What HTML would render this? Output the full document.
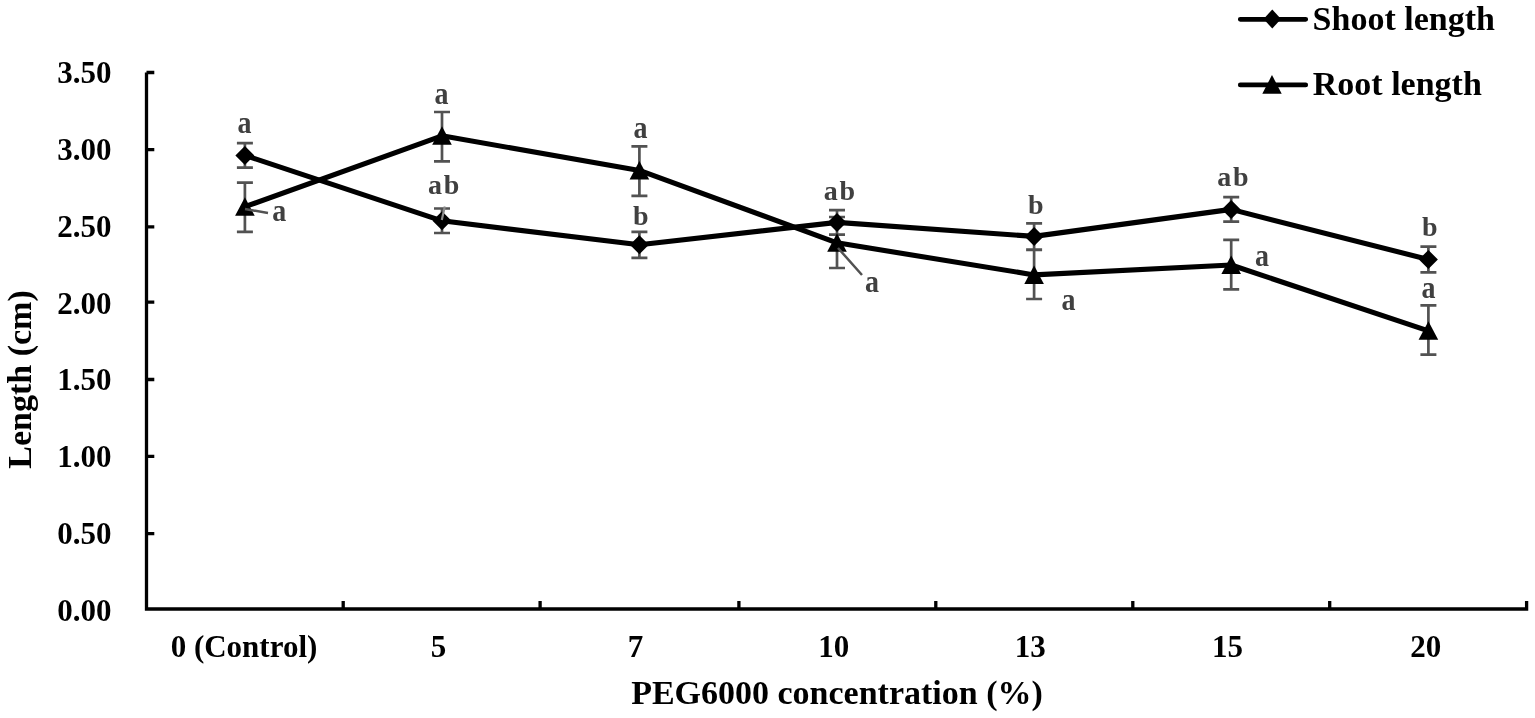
<!DOCTYPE html><html><head><meta charset="utf-8"><title>Shoot and root length vs PEG6000 concentration</title><style>html,body{margin:0;padding:0;background:#fff;}svg{display:block;}text{font-family:"Liberation Serif", "Times New Roman", serif;font-weight:bold;}</style></head><body>
<svg width="1535" height="718" viewBox="0 0 1535 718">
<rect width="1535" height="718" fill="#fff"/>
<path d="M146.5 72.5H154.3 M146.5 72.5V609.0H1526.6V601.0 M146.5 149.7h7.8 M146.5 226.9h7.8 M146.5 302.2h7.8 M146.5 379.5h7.8 M146.5 456.4h7.8 M146.5 533.6h7.8 M343.2 609.0v-8 M540.1 609.0v-8 M738.9 609.0v-8 M935.8 609.0v-8 M1132.8 609.0v-8 M1329.7 609.0v-8" fill="none" stroke="#000" stroke-width="3.3" stroke-linejoin="miter" stroke-linecap="butt"/>
<text x="111.5" y="82.6" font-size="31" text-anchor="end">3.50</text>
<text x="111.5" y="159.7" font-size="31" text-anchor="end">3.00</text>
<text x="111.5" y="237.0" font-size="31" text-anchor="end">2.50</text>
<text x="111.5" y="314.1" font-size="31" text-anchor="end">2.00</text>
<text x="111.5" y="389.5" font-size="31" text-anchor="end">1.50</text>
<text x="111.5" y="466.9" font-size="31" text-anchor="end">1.00</text>
<text x="111.5" y="543.9" font-size="31" text-anchor="end">0.50</text>
<text x="111.5" y="621.0" font-size="31" text-anchor="end">0.00</text>
<text x="244.0" y="656.8" font-size="31" text-anchor="middle">0 (Control)</text>
<text x="438.6" y="656.8" font-size="31" text-anchor="middle">5</text>
<text x="635.6" y="656.8" font-size="31" text-anchor="middle">7</text>
<text x="833.8" y="656.8" font-size="31" text-anchor="middle">10</text>
<text x="1030.3" y="656.8" font-size="31" text-anchor="middle">13</text>
<text x="1227.5" y="656.8" font-size="31" text-anchor="middle">15</text>
<text x="1425.7" y="656.8" font-size="31" text-anchor="middle">20</text>
<text x="837" y="704.3" font-size="34" text-anchor="middle">PEG6000 concentration (%)</text>
<text transform="translate(31.3 379.5) rotate(-90)" x="0" y="0" font-size="34" text-anchor="middle">Length (cm)</text>
<path d="M244.9 143.2V167.6 M236.9 143.2h16 M236.9 167.6h16 M442.0 208.5V233 M434.0 208.5h16 M434.0 233h16 M639.4 231.8V257.9 M631.4 231.8h16 M631.4 257.9h16 M837.0 210.1V234.7 M829.0 210.1h16 M829.0 234.7h16 M1034.1 223.3V249.6 M1026.1 223.3h16 M1026.1 249.6h16 M1231.2 197.1V221.7 M1223.2 197.1h16 M1223.2 221.7h16 M1428.4 246.6V272.4 M1420.4 246.6h16 M1420.4 272.4h16 M244.9 182.6V231.9 M236.9 182.6h16 M236.9 231.9h16 M442.0 112V161.3 M434.0 112h16 M434.0 161.3h16 M639.4 146.4V195.8 M631.4 146.4h16 M631.4 195.8h16 M837.0 217V268 M829.0 217h16 M829.0 268h16 M1034.1 249.8V299 M1026.1 249.8h16 M1026.1 299h16 M1231.2 239.8V289.3 M1223.2 239.8h16 M1223.2 289.3h16 M1428.4 305.4V354.7 M1420.4 305.4h16 M1420.4 354.7h16" fill="none" stroke="#525252" stroke-width="2.7"/>
<polyline points="244.9,155.4 442.0,220.8 639.4,244.8 837.0,222.4 1034.1,236.4 1231.2,209.4 1428.4,259.5" fill="none" stroke="#000" stroke-width="5.1" stroke-linejoin="round"/>
<polyline points="244.9,206.7 442.0,135.8 639.4,170.4 837.0,242.8 1034.1,274.9 1231.2,265.0 1428.4,330.8" fill="none" stroke="#000" stroke-width="5.1" stroke-linejoin="round"/>
<path d="M244.9 145.9L254.4 155.4L244.9 164.9L235.4 155.4Z" fill="#000"/>
<path d="M442.0 211.2L451.5 220.8L442.0 230.2L432.5 220.8Z" fill="#000"/>
<path d="M639.4 235.3L648.9 244.8L639.4 254.3L629.9 244.8Z" fill="#000"/>
<path d="M837.0 212.9L846.5 222.4L837.0 231.9L827.5 222.4Z" fill="#000"/>
<path d="M1034.1 226.9L1043.6 236.4L1034.1 245.9L1024.6 236.4Z" fill="#000"/>
<path d="M1231.2 199.9L1240.7 209.4L1231.2 218.9L1221.7 209.4Z" fill="#000"/>
<path d="M1428.4 250.0L1437.9 259.5L1428.4 269.0L1418.9 259.5Z" fill="#000"/>
<path d="M244.9 197.2L254.7 215.7L235.1 215.7Z" fill="#000"/>
<path d="M442.0 126.3L451.8 144.8L432.2 144.8Z" fill="#000"/>
<path d="M639.4 160.9L649.2 179.4L629.6 179.4Z" fill="#000"/>
<path d="M837.0 233.3L846.8 251.8L827.2 251.8Z" fill="#000"/>
<path d="M1034.1 265.4L1043.9 283.9L1024.3 283.9Z" fill="#000"/>
<path d="M1231.2 255.5L1241.0 274.0L1221.4 274.0Z" fill="#000"/>
<path d="M1428.4 321.3L1438.2 339.8L1418.6 339.8Z" fill="#000"/>
<path d="M245 209L268 213 M838 248L862 275" fill="none" stroke="#525252" stroke-width="2.5"/>
<path d="M444.8 206.5L441.8 220" fill="none" stroke="#8c8c8c" stroke-width="2.2"/>
<text transform="translate(244.6 133) scale(1 1.13)" font-size="28" text-anchor="middle" fill="#404040">a</text>
<text transform="translate(279.2 221.3) scale(1 1.13)" font-size="28" text-anchor="middle" fill="#404040">a</text>
<text transform="translate(441.5 103.7) scale(1 1.13)" font-size="28" text-anchor="middle" fill="#404040">a</text>
<text x="443.7" y="194" font-size="28" text-anchor="middle" fill="#404040">a<tspan dx="1.6">b</tspan></text>
<text transform="translate(640.5 137.7) scale(1 1.13)" font-size="28" text-anchor="middle" fill="#404040">a</text>
<text x="640.7" y="224.8" font-size="28" text-anchor="middle" fill="#404040">b</text>
<text x="839.4" y="200.4" font-size="28" text-anchor="middle" fill="#404040">a<tspan dx="1.6">b</tspan></text>
<text transform="translate(872 292.1) scale(1 1.13)" font-size="28" text-anchor="middle" fill="#404040">a</text>
<text x="1035.7" y="213.5" font-size="28" text-anchor="middle" fill="#404040">b</text>
<text transform="translate(1068.5 310.2) scale(1 1.13)" font-size="28" text-anchor="middle" fill="#404040">a</text>
<text x="1232.9" y="185.6" font-size="28" text-anchor="middle" fill="#404040">a<tspan dx="1.6">b</tspan></text>
<text transform="translate(1262.1 266.2) scale(1 1.13)" font-size="28" text-anchor="middle" fill="#404040">a</text>
<text x="1429.9" y="236.3" font-size="28" text-anchor="middle" fill="#404040">b</text>
<text transform="translate(1428.4 297.6) scale(1 1.13)" font-size="28" text-anchor="middle" fill="#404040">a</text>
<path d="M1240.3 19.3H1305.7 M1240.3 84.9H1305.7" fill="none" stroke="#000" stroke-width="4.8" stroke-linecap="round"/>
<path d="M1272.3 9.5L1281 19L1272.3 28.5L1263.6 19Z" fill="#000"/>
<path d="M1272 75L1281.7 93.7L1262.3 93.7Z" fill="#000"/>
<text x="1312.6" y="29.7" font-size="34">Shoot length</text>
<text x="1312.8" y="95.4" font-size="34">Root length</text>
</svg></body></html>
